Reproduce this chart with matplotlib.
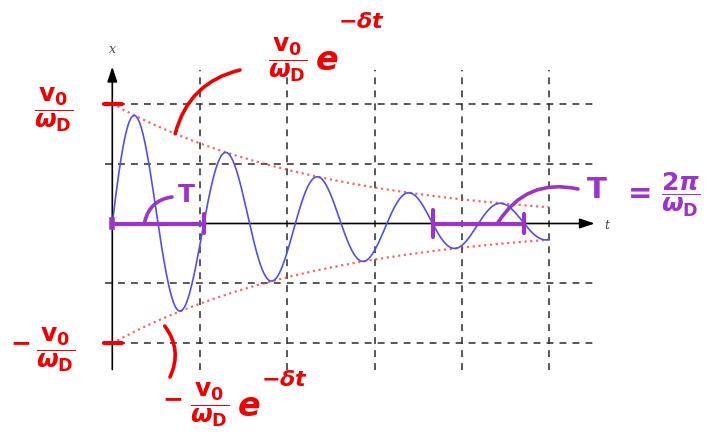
import numpy as np
import matplotlib
matplotlib.use("Agg")
import matplotlib.pyplot as plt

plt.rcParams['mathtext.fontset'] = 'dejavusans'

# ---- data -------------------------------------------------------------
omega_d = 6.0          # damped angular frequency
delta = 0.4            # decay rate
t_end = 5.0
grid_t = [1, 2, 3, 4, 5]
grid_x = [-1.0, -0.5, 0.5, 1.0]
t = np.linspace(0, t_end, 800)
x = np.exp(-delta * t) * np.sin(omega_d * t)
env = np.exp(-delta * t)
period = 2 * np.pi / omega_d
bracket_starts = [0.0, 7 * np.pi / omega_d]

# ---- layout -----------------------------------------------------------
W, H = 720, 442
x0px, sx = 112.3, 87.4     # pixel of t=0, pixels per unit t
y0px, sy = 223.5, 119.7    # pixel of x=0, pixels per unit x

fig = plt.figure(figsize=(W / 100, H / 100), dpi=100)
ax = fig.add_axes([0, 0, 1, 1])
ax.set_xlim(-x0px / sx, (W - x0px) / sx)
ax.set_ylim((y0px - H) / sy, y0px / sy)
ax.axis('off')

RED = '#f20000'
PURPLE = '#9a34cc'
BLUE = '#4f4ff2'

def fp(px, py):
    return (px / W, 1 - py / H)

# grid
dash = (0, (4.5, 4))
for g in grid_t:
    ax.plot([g, g], [-1.22, 1.28], color='#2a2a2a', lw=1.1, ls=dash, zorder=1)
for g in grid_x:
    ax.plot([-0.08, 5.5], [g, g], color='#2a2a2a', lw=1.1, ls=dash, zorder=1)

# axes with arrows
ax.annotate('', xy=(5.52, 0), xytext=(0, 0),
            arrowprops=dict(arrowstyle='-|>,head_length=0.9,head_width=0.3',
                            color='black', lw=1.2, shrinkA=0, shrinkB=0), zorder=2)
ax.annotate('', xy=(0, 1.31), xytext=(0, -1.22),
            arrowprops=dict(arrowstyle='-|>,head_length=0.9,head_width=0.3',
                            color='black', lw=1.2, shrinkA=0, shrinkB=0), zorder=2)
ax.text(0, 1.455, 'x', fontsize=9, family='DejaVu Serif', style='italic',
        color='#5a4530', ha='center', va='center')
ax.text(5.66, -0.02, 't', fontsize=9, family='DejaVu Serif', style='italic',
        color='#5a4530', ha='center', va='center')

# curves
ax.plot(t, env, color='#ff3030', lw=1.6, ls=(0, (1, 1.6)), alpha=0.75, zorder=3)
ax.plot(t, -env, color='#ff3030', lw=1.6, ls=(0, (1, 1.6)), alpha=0.75, zorder=3)
ax.plot(t, x, color=BLUE, lw=1.2, zorder=4)

# red ticks at +-v0/wD
for v in (1, -1):
    ax.plot([-0.1, 0.11], [v, v], color=RED, lw=3, solid_capstyle='round', zorder=5)

# purple period brackets
for s in bracket_starts:
    ax.plot([s, s + period], [0, 0], color=PURPLE, lw=3, solid_capstyle='round', zorder=6)
    ax.plot([s + period, s + period], [-0.08, 0.08], color=PURPLE, lw=3,
            solid_capstyle='round', zorder=6)
ax.plot([bracket_starts[0]] * 2, [-0.03, 0.03], color=PURPLE, lw=4, zorder=6)
ax.plot([bracket_starts[1]] * 2, [-0.11, 0.11], color=PURPLE, lw=3,
        solid_capstyle='round', zorder=6)

# ---- hand-written annotations ------------------------------------------
frac = r'$\dfrac{\mathbf{v_0}}{\boldsymbol{\omega}_\mathbf{D}}$'
kw = dict(color=RED, ha='center', va='center', fontsize=18)

# left labels
fig.text(*fp(54, 110), frac, **kw)
fig.text(*fp(20, 342), r'$\boldsymbol{-}$', **kw)
fig.text(*fp(56, 350), frac, **kw)

# top envelope label
fig.text(*fp(288, 60), frac, **kw)
fig.text(*fp(327, 60), r'$\boldsymbol{e}$', color=RED, ha='center', va='center', fontsize=24)
fig.text(*fp(362, 22), r'$\boldsymbol{-\delta t}$', color=RED, ha='center', va='center', fontsize=16)

# bottom envelope label
fig.text(*fp(172, 398), r'$\boldsymbol{-}$', **kw)
fig.text(*fp(210, 405), frac, **kw)
fig.text(*fp(249, 407), r'$\boldsymbol{e}$', color=RED, ha='center', va='center', fontsize=24)
fig.text(*fp(285, 380), r'$\boldsymbol{-\delta t}$', color=RED, ha='center', va='center', fontsize=16)

# leader strokes (red)
t_up = 0.72
ax.annotate('', xy=(t_up, np.exp(-delta * t_up)), xytext=(240, H - 70),
            textcoords='figure pixels',
            arrowprops=dict(arrowstyle='-', color=RED, lw=2.6,
                            connectionstyle='arc3,rad=0.3', shrinkA=0, shrinkB=0))
t_lo = 0.6
ax.annotate('', xy=(t_lo, -np.exp(-delta * t_lo) - 0.07), xytext=(170, H - 377),
            textcoords='figure pixels',
            arrowprops=dict(arrowstyle='-', color=RED, lw=2.6,
                            connectionstyle='arc3,rad=0.3', shrinkA=0, shrinkB=0))

# purple labels
fig.text(*fp(186, 195), r'$\mathbf{T}$', color=PURPLE, ha='center', va='center', fontsize=18)
ax.annotate('', xy=(0.37, 0.01), xytext=(172, H - 197), textcoords='figure pixels',
            arrowprops=dict(arrowstyle='-', color=PURPLE, lw=2.6,
                            connectionstyle='arc3,rad=0.35', shrinkA=0, shrinkB=0))
fig.text(*fp(597, 190), r'$\mathbf{T}$', color=PURPLE, ha='center', va='center', fontsize=21)
fig.text(*fp(637, 192), r'$\mathbf{=}$', color=PURPLE, ha='center', va='center', fontsize=21)
fig.text(*fp(681, 195), r'$\dfrac{\mathbf{2}\boldsymbol{\pi}}{\boldsymbol{\omega}_\mathbf{D}}$',
         color=PURPLE, ha='center', va='center', fontsize=18)
ax.annotate('', xy=(bracket_starts[1] + 0.75, 0.01), xytext=(578, H - 189),
            textcoords='figure pixels',
            arrowprops=dict(arrowstyle='-', color=PURPLE, lw=2.6,
                            connectionstyle='arc3,rad=0.35', shrinkA=0, shrinkB=0))

fig.savefig('out.png', dpi=100)
